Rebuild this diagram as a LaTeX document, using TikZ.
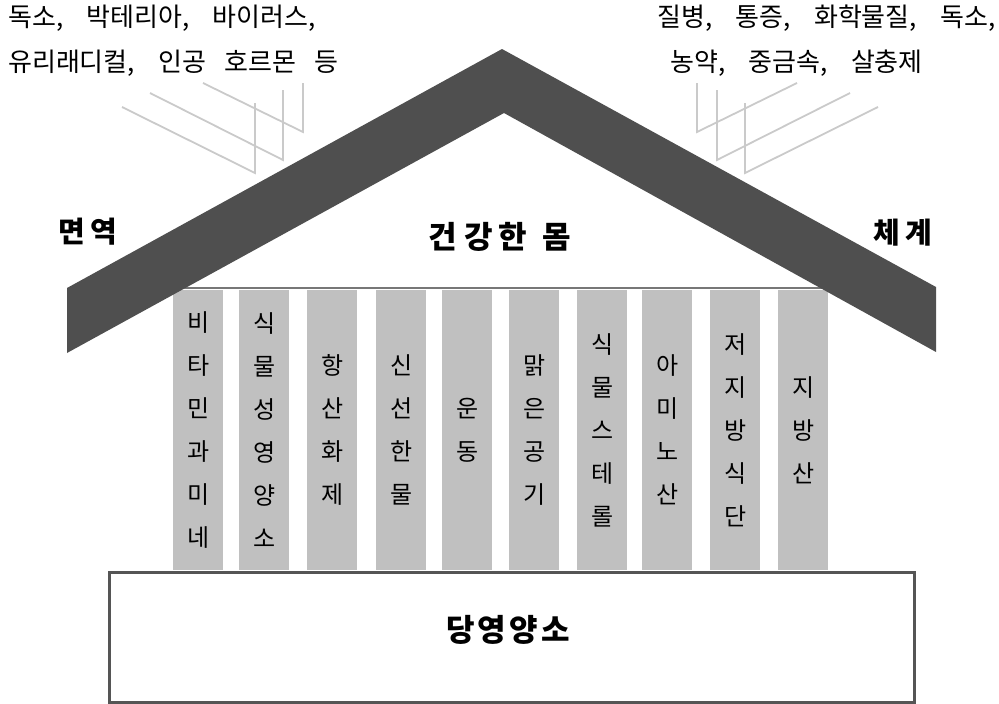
\documentclass[tikz,border=0pt]{standalone}
\usepackage{fontspec}
\newfontfamily\kr{Noto Sans CJK KR}
\newcommand\kcomma{,\hspace{0.9em}}
\newcommand\kgap{\hspace{0.7em}}
\begin{document}
\begin{tikzpicture}[x=1pt,y=-1pt,
  pillar/.style={fill=pillargray,draw=none,minimum width=50pt,minimum height=280pt,inner sep=0pt,anchor=north west,align=center,font={\kr\fontsize{24}{43}\selectfont}},
  ray/.style={draw=raygray,line width=1.8pt},
  toptext/.style={anchor=west,inner sep=0pt,font={\kr\fontsize{26}{28}\selectfont}},
  biglabel/.style={inner sep=0pt,font={\kr\bfseries\fontsize{31}{36}\selectfont}},
  sidelabel/.style={inner sep=0pt,font={\kr\bfseries\fontsize{29}{34}\selectfont}}]
\definecolor{roofgray}{HTML}{4F4F4F}
\definecolor{pillargray}{HTML}{C0C0C0}
\definecolor{raygray}{HTML}{CACACA}
\definecolor{framegray}{HTML}{555555}
\useasboundingbox (0,0) rectangle (999,704);
% texts at top
\node[toptext] (tl1) at (8,18) {독소\kcomma 박테리아\kcomma 바이러스,};
\node[toptext] (tl2) at (8,63) {유리래디컬\kcomma 인공\kgap 호르몬\kgap 등};
\node[toptext] (tr1) at (657,18) {질병\kcomma 통증\kcomma 화학물질\kcomma 독소,};
\node[toptext] (tr2) at (670,63) {농약\kcomma 중금속\kcomma 살충제};
% rays
\draw[ray] (203,83) -- (303,132) -- (303,83);
\draw[ray] (150,93) -- (283,160) -- (283,90);
\draw[ray] (122,107) -- (255,173) -- (255,103);
\draw[ray] (797,83) -- (697,132) -- (697,83);
\draw[ray] (850,93) -- (717,160) -- (717,90);
\draw[ray] (878,107) -- (745,173) -- (745,103);
% frame top line
\draw[draw=framegray!80,line width=2pt] (173,288) -- (827,288);
% pillars
\node[pillar] (p1) at (173,290) {비\\타\\민\\과\\미\\네};
\node[pillar] (p2) at (239,290) {식\\물\\성\\영\\양\\소};
\node[pillar] (p3) at (307,290) {항\\산\\화\\제};
\node[pillar] (p4) at (376,290) {신\\선\\한\\물};
\node[pillar] (p5) at (442,290) {운\\동};
\node[pillar] (p6) at (509,290) {맑\\은\\공\\기};
\node[pillar] (p7) at (577,290) {식\\물\\스\\테\\롤};
\node[pillar] (p8) at (642,290) {아\\미\\노\\산};
\node[pillar] (p9) at (710,290) {저\\지\\방\\식\\단};
\node[pillar] (p10) at (778,290) {지\\방\\산};
% base
\draw[draw=framegray,line width=3pt,fill=white] (109,572) rectangle (914,702);
\node[biglabel] (base) at (508,630) {당\hspace{3pt}영\hspace{3pt}양\hspace{3pt}소};
% roof
\fill[roofgray] (67,288) -- (502,49) -- (936,287) -- (936,352) -- (504,113) -- (67,353) -- cycle;
\node[sidelabel] (l1) at (88,232) {면\hspace{6pt}역};
\node[sidelabel] (l2) at (903,233) {체\hspace{6pt}계};
\node[biglabel] (body) at (500,237) {건\hspace{7pt}강\hspace{5pt}한\hspace{16pt}몸};
\end{tikzpicture}
\end{document}
